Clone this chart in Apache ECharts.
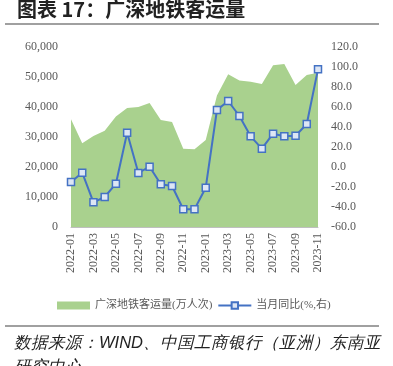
<!DOCTYPE html>
<html><head><meta charset="utf-8">
<script src="https://cdn.jsdelivr.net/npm/echarts@6/dist/echarts.min.js"></script>
<style>html,body{margin:0;padding:0;background:#fff}#c{width:393px;height:366px}</style>
</head><body><div id="c"></div>
<script>
const categories = ['2022-01','2022-02','2022-03','2022-04','2022-05','2022-06','2022-07','2022-08','2022-09','2022-10','2022-11','2022-12','2023-01','2023-02','2023-03','2023-04','2023-05','2023-06','2023-07','2023-08','2023-09','2023-10','2023-11'];
const ridership = [35900,27900,30300,32100,36800,39700,40000,41300,35700,35000,26100,25900,29000,43800,50900,48800,48400,47700,53900,54300,47300,50700,51400];
const yoy = [-15,-5.7,-35.3,-30,-16.7,34.3,-6,0.3,-17.3,-19,-42.3,-42.3,-20.7,57,66,51,30.7,18.3,33.3,30.7,31.3,43,97.7];
const tickPositions = [1.5,3.5,5.5,7.5,9.5,11.5,13.5,15.5,17.5,19.5,21.5];
const seriesNames = ['广深地铁客运量(万人次)','当月同比(%,右)'];
const titleText = '图表 17：广深地铁客运量';
const sourceText = '数据来源：WIND、中国工商银行（亚洲）东南亚\n研究中心';

const serif = "'Liberation Serif','Noto Sans CJK SC',serif";
const chart = echarts.init(document.getElementById('c'));
chart.setOption({
  animation:false,
  title:{text:titleText,left:12,top:-6,textStyle:{fontSize:20,fontWeight:'bold',color:'#222',fontFamily:"'Noto Sans CJK SC','Liberation Sans',sans-serif"}},
  grid:{left:71,right:75,top:47,bottom:139},
  legend:{left:52,top:295,itemWidth:33,itemHeight:8,itemGap:5,
    textStyle:{fontSize:11,color:'#595959',fontFamily:serif},
    data:[{name:seriesNames[0],icon:'rect'},{name:seriesNames[1]}]},
  xAxis:[{type:'category',data:categories,boundaryGap:false,
    axisLine:{lineStyle:{color:'#bfbfbf'}},axisTick:{show:false},
    axisLabel:{interval:1,rotate:90,fontSize:12,color:'#595959',fontFamily:serif,margin:6}},
   {type:'value',min:0,max:22,position:'bottom',axisLine:{show:false},splitLine:{show:false},
    axisLabel:{show:false},axisTick:{show:true,customValues:tickPositions,length:5,lineStyle:{color:'#bfbfbf'}}}],
  yAxis:[{type:'value',min:0,max:60000,interval:10000,splitLine:{show:false},axisLine:{show:false},axisTick:{show:false},
    axisLabel:{fontSize:12,color:'#595959',fontFamily:serif,margin:13,formatter:v=>v.toLocaleString('en-US')}},
   {type:'value',min:-60,max:120,interval:20,splitLine:{show:false},axisLine:{show:false},axisTick:{show:false},
    axisLabel:{fontSize:12,color:'#595959',fontFamily:serif,margin:13,formatter:v=>v.toFixed(1)}}],
  series:[
    {name:seriesNames[0],type:'line',data:ridership,symbol:'none',lineStyle:{width:0},
     itemStyle:{color:'#a9d18e'},areaStyle:{color:'#a9d18e',opacity:1},z:1},
    {name:seriesNames[1],type:'line',yAxisIndex:1,data:yoy,symbol:'rect',symbolSize:7,showAllSymbol:true,
     lineStyle:{color:'#4472c4',width:2},itemStyle:{color:'#dde6f5',borderColor:'#4472c4',borderWidth:1.5},z:3}
  ],
  graphic:[
    {type:'line',shape:{x1:5,y1:24,x2:379,y2:24},style:{stroke:'#808080',lineWidth:1.5}},
    {type:'line',shape:{x1:5,y1:326,x2:379,y2:326},style:{stroke:'#808080',lineWidth:1.5}},
    {type:'text',left:14,top:331,style:{text:sourceText,fontSize:16.5,fontStyle:'italic',lineHeight:24,fill:'#222',font:"italic 16.5px 'Noto Sans CJK SC','Liberation Sans',sans-serif"}}
  ]
});
</script></body></html>
